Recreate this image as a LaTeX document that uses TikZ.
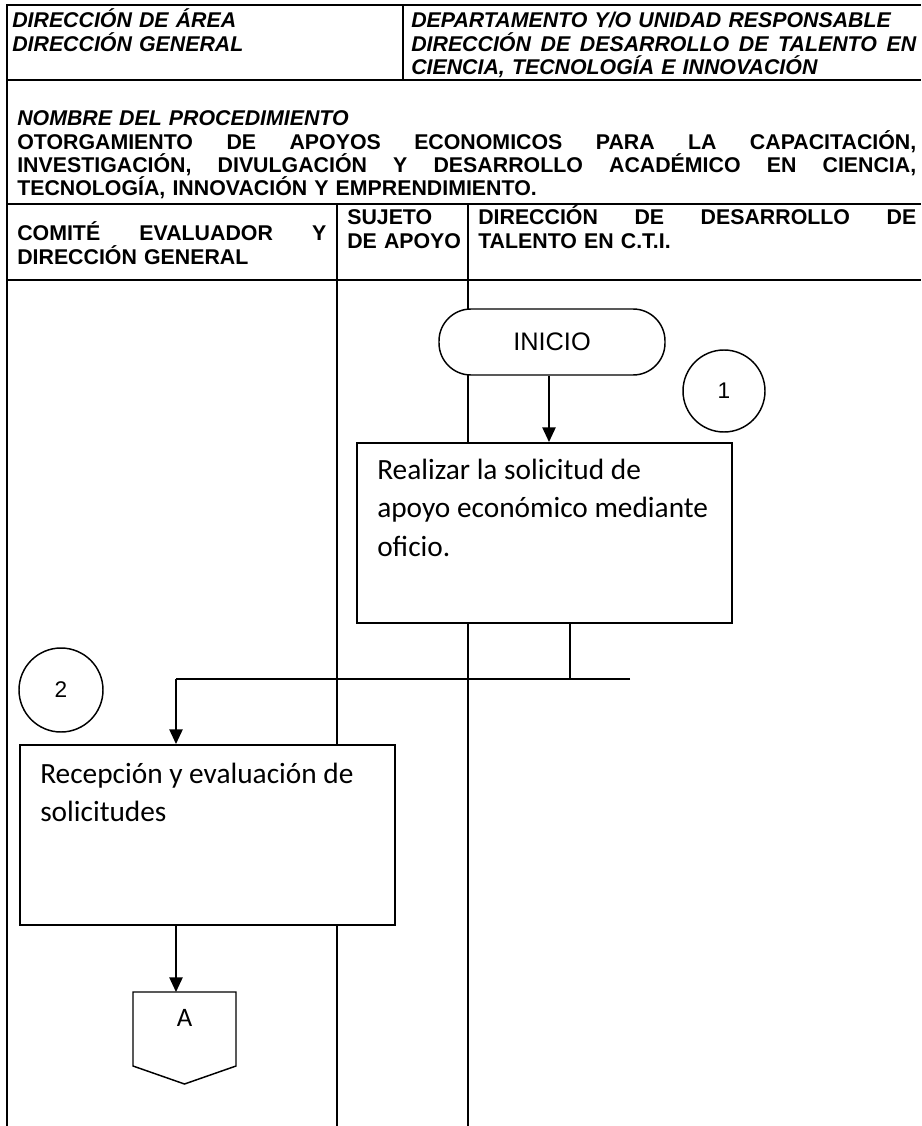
\documentclass[tikz,border=0pt]{standalone}
\usepackage{fontspec}
\setmainfont{Liberation Sans}
\newfontfamily\calib{Carlito}
\usetikzlibrary{arrows.meta}
\begin{document}
\begin{tikzpicture}[x=0.75pt,y=-0.75pt,
  frame/.style={line width=1.5pt},
  hdr/.style={inner sep=0pt,anchor=base west,align=left,
    font=\fontsize{16}{17.4}\selectfont\bfseries},
  hdri/.style={hdr,font=\fontsize{16}{17.4}\selectfont\bfseries\itshape},
  proc/.style={draw,line width=1.2pt,fill=white,minimum width=281.25pt,
    minimum height=135pt,inner sep=0pt,anchor=north west},
  proctext/.style={inner sep=0pt,anchor=base west,align=flush left,text width=260pt,
    font=\calib\fontsize{22}{28.9}\selectfont},
  term/.style={draw,line width=1.1pt,fill=white,rounded corners=24pt,
    minimum width=169.5pt,minimum height=49.5pt,inner sep=0pt,
    font=\fontsize{19}{22}\selectfont},
  stepno/.style={draw,circle,line width=1.1pt,fill=white,inner sep=0pt,
    font=\fontsize{17}{20}\selectfont},
  conn/.style={line width=1.1pt},
  arr/.style={conn,-{Triangle[length=11pt,width=10pt]}},
]
\useasboundingbox (0,0) rectangle (921,1126);
\fill[white] (0,0) rectangle (921,1126);

% frame
\draw[frame] (7,1126) -- (7,5) -- (921,5);
\draw[frame] (403,5) -- (403,80);
\draw[frame] (7,80) -- (921,80);
\draw[frame] (7,204) -- (921,204);
\draw[frame] (7,280) -- (921,280);
\draw[frame] (337,204) -- (337,1126);
\draw[frame] (468,204) -- (468,1126);

% header texts
\node[hdri,text width=285pt] (h1) at (12,28) {DIRECCIÓN DE ÁREA\\DIRECCIÓN GENERAL};
\node[hdri,text width=378.75pt] (h2) at (411,28)
  {DEPARTAMENTO Y/O UNIDAD RESPONSABLE\\DIRECCIÓN\hfill DE\hfill DESARROLLO\hfill DE\hfill TALENTO\hfill EN\\CIENCIA, TECNOLOGÍA E INNOVACIÓN};
\node[hdr,text width=674.25pt] (proc) at (17,126)
  {\itshape NOMBRE DEL PROCEDIMIENTO\\\upshape
   OTORGAMIENTO\hfill DE\hfill APOYOS\hfill ECONOMICOS\hfill PARA\hfill LA\hfill CAPACITACIÓN,\\
   INVESTIGACIÓN,\hfill DIVULGACIÓN\hfill Y\hfill DESARROLLO\hfill ACADÉMICO\hfill EN\hfill CIENCIA,\\
   TECNOLOGÍA, INNOVACIÓN Y EMPRENDIMIENTO.};

% column headers
\node[hdr,text width=231.75pt] (c1) at (17,241) {COMITÉ\hfill EVALUADOR\hfill Y\\DIRECCIÓN GENERAL};
\node[hdr,text width=90pt] (c2) at (347,225) {SUJETO\\DE APOYO};
\node[hdr,text width=328.5pt] (c3) at (478,225) {DIRECCIÓN\hfill DE\hfill DESARROLLO\hfill DE\\TALENTO EN C.T.I.};

% flow
\node[term] (ini) at (552,342) {INICIO};
\node[stepno,minimum size=61.5pt] (n1) at (724,391) {1};
\node[proc] (b1) at (356,442) {};
\node[proctext] (b1t) at ([shift={(21,37)}]b1.north west)
  {Realizar la solicitud de\\apoyo económico mediante\\oficio.};
\node[stepno,minimum size=63pt] (n2) at (61,690) {2};
\node[proc] (b2) at (19,744) {};
\node[proctext] (b2t) at ([shift={(21,39)}]b2.north west)
  {Recepción y evaluación de\\solicitudes};

% off-page connector A
\coordinate (Atop) at (184.5,992);
\draw[line width=1.1pt,fill=white] (133,992) -- (236,992) -- (236,1066) -- (184.5,1084) -- (133,1066) -- cycle;
\node[inner sep=0pt,font=\calib\fontsize{20}{24}\selectfont] (Atext) at (184.5,1018) {A};

% connectors
\coordinate (ax) at (549,0);
\coordinate (j1) at (570,679);
\coordinate (jr) at (630,679);
\coordinate (j2) at (176,679);
\draw[arr] (ini.south -| ax) -- (b1.north -| ax);
\draw[conn] (b1.south -| j1) -- (j1);
\draw[conn] (jr) -- (j2);
\draw[arr] (j2) -- (j2 |- b2.north);
\draw[arr] (b2.south -| j2) -- (j2 |- Atop);
\end{tikzpicture}
\end{document}
